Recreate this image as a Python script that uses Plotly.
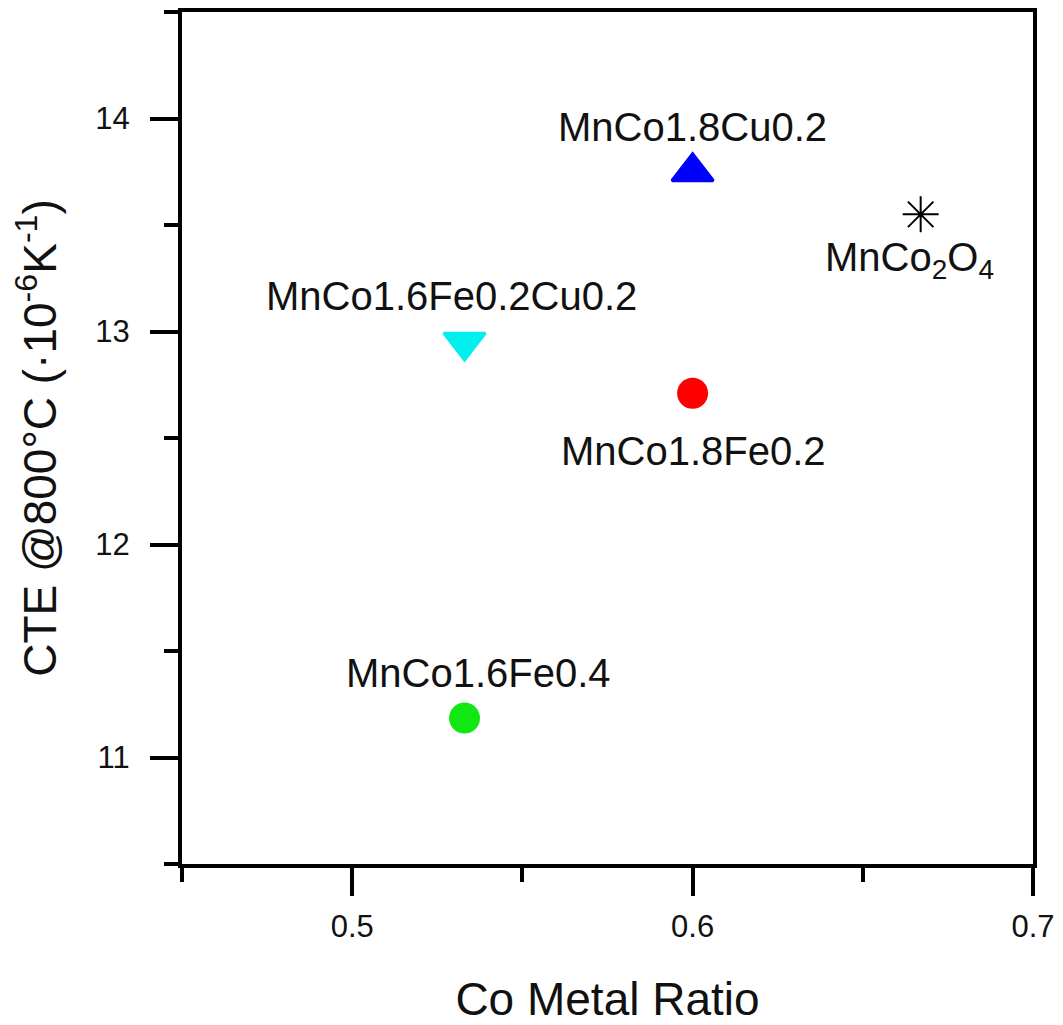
import plotly.graph_objects as go

# Data
labels = ["MnCo1.8Cu0.2", "MnCo<sub>2</sub>O<sub>4</sub>", "MnCo1.6Fe0.2Cu0.2", "MnCo1.8Fe0.2", "MnCo1.6Fe0.4"]
co_ratio = [0.6, 0.667, 0.533, 0.6, 0.533]
cte = [13.75, 13.55, 12.95, 12.71, 11.185]

# Styles
symbols = ["triangle-up", "asterisk-open", "triangle-down", "circle", "circle"]
colors = ["#0000ff", "#000000", "#00f0f0", "#ff0000", "#11e811"]
sizes = [36, 30, 36, 31, 31]
line_widths = [3, 2, 3, 0, 0]
label_dx = [0, -11, -13, 1, 14]
label_dy = [45, -46, 46, -58, 45]

FONT = "Liberation Sans, Arial, sans-serif"

fig = go.Figure()
for i in range(len(labels)):
    fig.add_trace(go.Scatter(
        x=[co_ratio[i]], y=[cte[i]], mode="markers",
        marker=dict(symbol=symbols[i], color=colors[i], size=sizes[i],
                    line=dict(color=colors[i], width=line_widths[i])),
        showlegend=False, cliponaxis=False))
    fig.add_annotation(x=co_ratio[i], y=cte[i], text=labels[i], showarrow=False,
                       xshift=label_dx[i], yshift=label_dy[i],
                       font=dict(family=FONT, size=40, color="#111111"))

axis_common = dict(showline=True, linewidth=4, linecolor="black", mirror=True,
                   ticks="outside", tickwidth=4, tickcolor="black",
                   showgrid=False, zeroline=False, automargin=False,
                   tickfont=dict(family=FONT, size=31, color="#111111"))

fig.update_xaxes(range=[0.45, 0.7], dtick=0.1, tick0=0.5, ticklen=28,
                 minor=dict(dtick=0.05, tick0=0.45, ticklen=14, tickwidth=4, tickcolor="black", ticks="outside"),
                 title=dict(text="Co Metal Ratio", font=dict(family=FONT, size=46, color="#111111"), standoff=46),
                 ticklabelstandoff=4,
                 **axis_common)
fig.update_yaxes(range=[10.5, 14.5], dtick=1, tick0=11, ticklen=28,
                 minor=dict(dtick=0.5, tick0=10.5, ticklen=14, tickwidth=4, tickcolor="black", ticks="outside"),
                 title=dict(text="CTE @800°C (·10<sup>-6</sup>K<sup>-1</sup>)", font=dict(family=FONT, size=46, color="#111111"), standoff=27),
                 ticklabelstandoff=14,
                 **axis_common)

fig.update_layout(width=1055, height=1017,
                  margin=dict(l=174, r=30, t=4, b=161),
                  plot_bgcolor="white", paper_bgcolor="white")

fig.write_html("out.html")
